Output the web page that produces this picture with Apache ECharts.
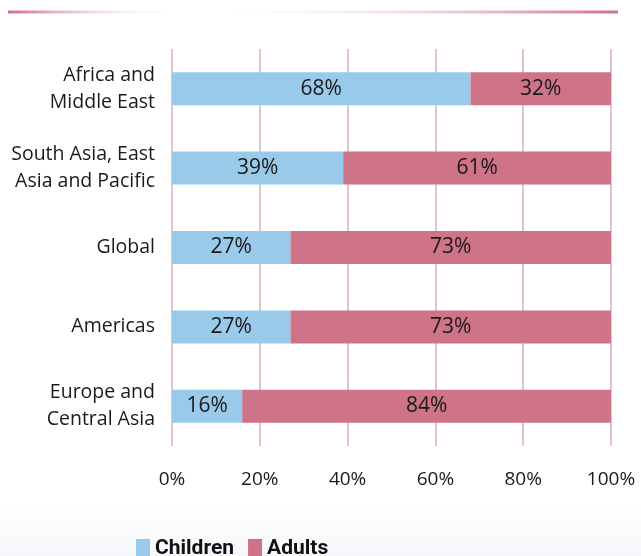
<!DOCTYPE html>
<html><head><meta charset="utf-8">
<script src="https://cdn.jsdelivr.net/npm/echarts@6/dist/echarts.min.js"></script>
<style>html,body{margin:0;padding:0;background:#fff}#c{width:641px;height:556px}</style>
</head><body><div id="c"></div>
<script>
const categories = ['Africa and\nMiddle East', 'South Asia, East\nAsia and Pacific', 'Global', 'Americas', 'Europe and\nCentral Asia'];
const children = [68, 39, 27, 27, 16];
const adults = [32, 61, 73, 73, 84];
const xTicks = [0, 20, 40, 60, 80, 100];

const chart = echarts.init(document.getElementById('c'), null, {renderer: 'canvas'});
const font = '"Open Sans", "Noto Sans", sans-serif';
const lbl = {show: true, position: 'inside', color: '#1a1a1a', fontSize: 21, fontFamily: font, formatter: p => p.value + '%'};
chart.setOption({
  animation: false,
  backgroundColor: '#fff',
  graphic: [
    {type: 'rect', shape: {x: 0, y: 505, width: 641, height: 51}, silent: true, z: -10,
     style: {fill: {type: 'linear', x: 0, y: 0, x2: 0, y2: 1, colorStops: [{offset: 0, color: '#ffffff'}, {offset: 1, color: '#f5f7fa'}]}}},
    {type: 'rect', shape: {x: 8, y: 10.5, width: 175, height: 3}, silent: true,
     style: {fill: {type: 'linear', x: 0, y: 0, x2: 1, y2: 0, colorStops: [{offset: 0, color: '#cf7088'}, {offset: 1, color: 'rgba(255,255,255,0)'}]}}},
    {type: 'rect', shape: {x: 205, y: 10.5, width: 413, height: 3}, silent: true,
     style: {fill: {type: 'linear', x: 0, y: 0, x2: 1, y2: 0, colorStops: [{offset: 0, color: 'rgba(255,255,255,0)'}, {offset: 1, color: '#cf7088'}]}}}
  ],
  legend: {
    bottom: -8, left: 131, itemWidth: 14, itemHeight: 19, itemGap: 14,
    icon: 'rect',
    textStyle: {fontSize: 21, fontWeight: 'bold', color: '#111', fontFamily: 'Roboto, "Liberation Sans", Arial, sans-serif'},
    data: ['Children', 'Adults']
  },
  grid: {left: 172, right: 30, top: 49, bottom: 110, containLabel: false},
  xAxis: {
    type: 'value', min: 0, max: 100, interval: 20,
    axisLine: {show: false}, axisTick: {show: false},
    splitLine: {show: true, lineStyle: {color: '#e0c5ce', width: 2}},
    axisLabel: {formatter: v => xTicks.includes(v) ? v + '%' : '', fontSize: 19, color: '#1a1a1a', fontFamily: font, margin: 24}
  },
  yAxis: {
    type: 'category', data: categories, inverse: true,
    axisLine: {show: false}, axisTick: {show: false},
    axisLabel: {fontSize: 19.5, color: '#1a1a1a', fontFamily: font, lineHeight: 27, margin: 17, align: 'right'}
  },
  series: [
    {name: 'Children', type: 'bar', stack: 'a', data: children, barWidth: 33, itemStyle: {color: '#9acaea'}, label: lbl},
    {name: 'Adults', type: 'bar', stack: 'a', data: adults, barWidth: 33, itemStyle: {color: '#cf7388'}, label: lbl}
  ]
});
</script></body></html>
